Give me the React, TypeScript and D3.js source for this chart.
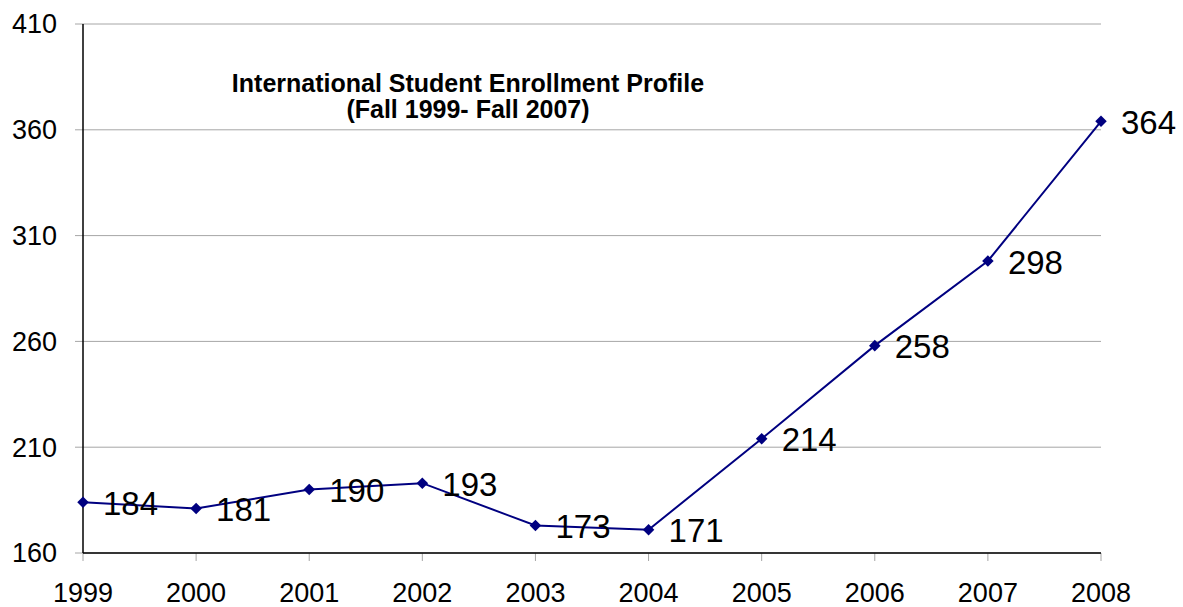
import React from "react";
import * as d3 from "d3";

const years = ["1999", "2000", "2001", "2002", "2003", "2004", "2005", "2006", "2007", "2008"];
const enrollment = [184, 181, 190, 193, 173, 171, 214, 258, 298, 364];
const yTicks = [160, 210, 260, 310, 360, 410];
const titleLines = ["International Student Enrollment Profile", "(Fall 1999- Fall 2007)"];

const W = 1183;
const H = 607;
const margin = { left: 83, right: 82, top: 24, bottom: 54 };

export default function App() {
  const x = d3
    .scalePoint<string>()
    .domain(years)
    .range([margin.left, W - margin.right]);
  const y = d3
    .scaleLinear()
    .domain([160, 410])
    .range([H - margin.bottom, margin.top]);

  const line = d3
    .line<number>()
    .x((_, i) => x(years[i]) as number)
    .y((d) => y(d));

  const font = "Arial, 'Liberation Sans', sans-serif";
  const diamond = d3.symbol().type(d3.symbolDiamond2).size(85)();

  return (
    <svg
      width={W}
      height={H}
      style={{ position: "absolute", left: 0, top: 0, background: "#fff" }}
      fontFamily={font}
    >
      {yTicks.map((t) => (
        <g key={t}>
          <line x1={margin.left - 8} x2={W - margin.right} y1={y(t)} y2={y(t)} stroke="#a6a6a6" strokeWidth={1} />
          <text x={57} y={y(t)} dy="0.35em" textAnchor="end" fontSize={27} fill="#000">
            {t}
          </text>
        </g>
      ))}
      {years.map((yr) => (
        <g key={yr}>
          <line
            x1={x(yr)}
            x2={x(yr)}
            y1={H - margin.bottom}
            y2={H - margin.bottom + 8}
            stroke="#a6a6a6"
            strokeWidth={1}
          />
          <text x={x(yr)} y={602} textAnchor="middle" fontSize={27} fill="#000">
            {yr}
          </text>
        </g>
      ))}
      <line x1={margin.left} x2={margin.left} y1={margin.top} y2={H - margin.bottom} stroke="#000" strokeWidth={1.5} />
      <line x1={margin.left} x2={W - margin.right} y1={H - margin.bottom} y2={H - margin.bottom} stroke="#000" strokeWidth={1.5} />

      <path d={line(enrollment) || ""} fill="none" stroke="#000080" strokeWidth={2} />
      {enrollment.map((v, i) => (
        <g key={i}>
          <path d={diamond || ""} transform={`translate(${x(years[i])},${y(v)})`} fill="#000080" />
          <text x={(x(years[i]) as number) + 20} y={y(v) + 1} dy="0.35em" fontSize={33} fill="#000">
            {v}
          </text>
        </g>
      ))}

      <text x={468} y={92} textAnchor="middle" fontSize={25} fontWeight="bold" fill="#000">
        {titleLines[0]}
      </text>
      <text x={468} y={118} textAnchor="middle" fontSize={25} fontWeight="bold" fill="#000">
        {titleLines[1]}
      </text>
    </svg>
  );
}
